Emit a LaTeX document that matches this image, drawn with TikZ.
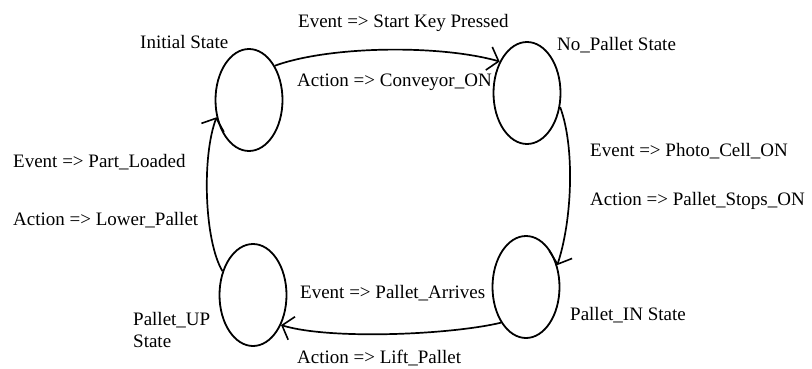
\documentclass[tikz,border=0pt]{standalone}
\usepackage{fontspec}
\setmainfont{Liberation Serif}
\usetikzlibrary{shapes.geometric,arrows.meta}
\tikzset{
  statenode/.style={draw, ellipse, line width=1.8pt, inner sep=0pt, minimum width=67pt, minimum height=102pt},
  trans/.style={line width=1.7pt, -{Straight Barb[length=10pt,width=24pt,line width=1.6pt]}},
  lbl/.style={inner sep=0pt, anchor=base west, font=\fontsize{19}{22}\selectfont}
}
\begin{document}
\begin{tikzpicture}[x=1pt,y=-1pt]
\useasboundingbox (0,0) rectangle (812,369);
% states
\node[statenode] (init) at (249,100) {};
\node[statenode] (nopal) at (527,93) {};
\node[statenode] (palin) at (526,287) {};
\node[statenode] (palup) at (253,295) {};
% state names
\node[lbl] (tinit) at (140,48.5) {Initial State};
\node[lbl] (tnopal) at (557,51) {No\_Pallet State};
\node[lbl] (tpalin) at (570,320) {Pallet\_IN State};
\node[lbl, anchor=north west, align=left] (tpalup) at (133,312) {Pallet\_UP\\State};
% transitions
\draw[trans] (init.53) .. controls +(55,-20) and +(-60,-17) .. (nopal.131);
\draw[trans] (nopal.-23) .. controls +(15,40) and +(15,-45) .. (palin.35);
\draw[trans] (palin.235.6) .. controls +(-50,12) and +(50,15) .. (palup.-47.8);
\draw[trans] (palup.142.5) .. controls +(-18,-30) and +(-15,40) .. (init.208);
% transition labels
\node[lbl] (e1) at (298,28) {Event => Start Key Pressed};
\node[lbl] (a1) at (297,87) {Action => Conveyor\_ON};
\node[lbl] (e2) at (590,156) {Event => Photo\_Cell\_ON};
\node[lbl] (a2) at (590,205) {Action => Pallet\_Stops\_ON};
\node[lbl] (e3) at (300,298) {Event => Pallet\_Arrives};
\node[lbl] (a3) at (297,363) {Action => Lift\_Pallet};
\node[lbl] (e4) at (13,167) {Event => Part\_Loaded};
\node[lbl] (a4) at (13,225) {Action => Lower\_Pallet};
\end{tikzpicture}
\end{document}
